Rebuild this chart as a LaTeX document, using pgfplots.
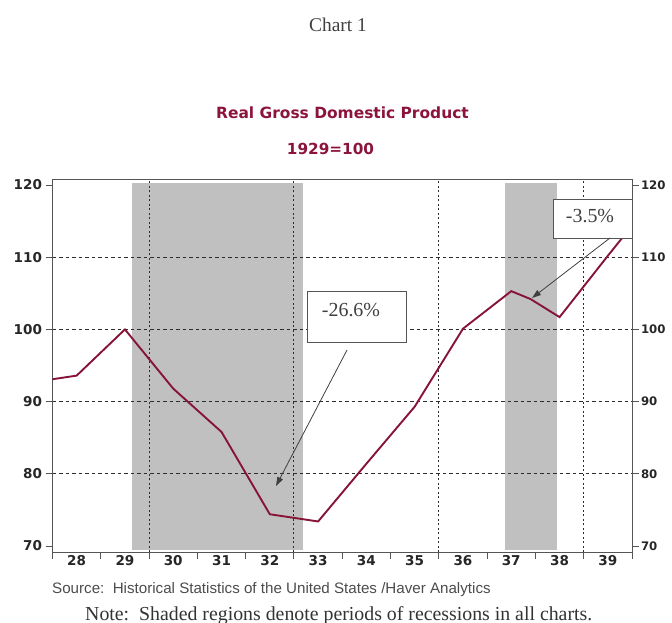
\documentclass[border=0pt]{standalone}
\usepackage{pgfplots}
\pgfplotsset{compat=1.18}
\usepackage{fontspec}
\setmainfont{DejaVu Sans}
\newfontfamily\arialf{Liberation Sans}
\newfontfamily\timesf{Liberation Serif}
\usetikzlibrary{arrows.meta}
\definecolor{gdpred}{RGB}{135,20,55}
\definecolor{titlered}{RGB}{140,20,60}
\definecolor{shade}{RGB}{192,192,192}
\definecolor{framegray}{RGB}{85,85,85}
\definecolor{gridgray}{RGB}{45,45,45}

\pgfplotsset{
  gdpframe/.style={
    at={(52.5bp,-552bp)}, anchor=south west,
    scale only axis, width=579.5bp, height=373bp,
    xmin=1928, xmax=1940, ymin=69.17, ymax=120.83,
    axis line style={framegray, line width=0.9bp},
    tick style={framegray, line width=0.9bp},
    tick align=outside, major tick length=7bp, minor tick length=0pt,
    tick label style={font=\fontsize{13.6}{14}\selectfont\bfseries, text=black!85},
    /pgf/number format/assume math mode=true,
    ytick={70,80,...,120},
  }
}

\begin{document}
\begin{tikzpicture}[x=1bp,y=1bp]

\begin{axis}[gdpframe, set layers,
  xtick={1928,...,1940}, xticklabels={},
  xtick pos=bottom,
  extra x ticks={1928.5,1929.5,...,1939.5},
  extra x tick labels={28,29,30,31,32,33,34,35,36,37,38,39},
  extra x tick style={major tick length=0pt},
  minor xtick={1930,1933,1936,1939}, xminorgrids,
  minor ytick={80,90,100,110}, yminorgrids,
  minor x grid style={gridgray, line width=1bp, dash pattern=on 2bp off 2.5bp},
  minor y grid style={gridgray, line width=1bp, dash pattern=on 3.5bp off 3bp},
  ytick pos=both, yticklabel pos=left,
]
% recession shading
\addplot[fill=shade, draw=none, on layer=axis background] coordinates {
  (1929.64,69.45) (1933.18,69.45) (1933.18,120.28) (1929.64,120.28)} -- cycle;
\addplot[fill=shade, draw=none, on layer=axis background] coordinates {
  (1937.36,69.45) (1938.44,69.45) (1938.44,120.28) (1937.36,120.28)} -- cycle;
% real GDP, 1929=100
\addplot[gdpred, line width=1.9bp] coordinates {
  (1928.0,93.1)
  (1928.5,93.6)
  (1929.5,100.0)
  (1930.5,91.8)
  (1931.5,85.8)
  (1932.5,74.4)
  (1933.5,73.4)
  (1934.5,81.4)
  (1935.5,89.3)
  (1936.5,100.1)
  (1937.5,105.3)
  (1937.9,104.2)
  (1938.5,101.7)
  (1939.5,110.2)
  (1939.8,112.7)
};
\end{axis}

% right-hand tick labels
\begin{axis}[gdpframe, hide x axis,
  ytick pos=right, yticklabel pos=right,
  axis line style={draw=none},
  yticklabel style={font=\fontsize{11.8}{12}\selectfont\bfseries, xshift=-1.5bp},
]
\addplot[draw=none] coordinates {(1934,95)};
\end{axis}

% titles
\node[font=\timesf\fontsize{19.5}{20}\selectfont, text=black!75, anchor=base] at (338,-31.5) {Chart 1};
\node[font=\fontsize{15.5}{16}\selectfont\bfseries, text=titlered, anchor=base] at (342.5,-118.3) {Real Gross Domestic Product};
\node[font=\fontsize{15.3}{16}\selectfont\bfseries, text=titlered, anchor=base] at (330.5,-155) {1929=100};

% annotations
\draw[framegray, line width=0.8bp, fill=white] (307,-291) rectangle (406,-342);
\node[font=\timesf\fontsize{20}{20}\selectfont, text=black!75] at (351,-310) {-26.6\%};
\draw[black!75, line width=0.8bp, -{Triangle[length=9bp,width=6bp]}] (347,-350) -- (276,-486);
\draw[framegray, line width=0.8bp, fill=white] (553,-199) rectangle (632,-238);
\node[font=\timesf\fontsize{20}{20}\selectfont, text=black!75] at (590,-216.5) {-3.5\%};
\draw[black!75, line width=0.8bp, -{Triangle[length=9bp,width=6bp]}] (610,-238) -- (532,-298);

% footnotes
\node[font=\arialf\fontsize{15.2}{16}\selectfont, text=black!70, anchor=base west, inner sep=0] at (52,-593) {Source:\ \ Historical Statistics of the United States /Haver Analytics};
\node[font=\timesf\fontsize{19.9}{20}\selectfont, text=black!80, anchor=base west, inner sep=0] at (85,-620) {Note:\ \ Shaded regions denote periods of recessions in all charts.};

\pgfresetboundingbox
\useasboundingbox (0,0) rectangle (672,-623);
\end{tikzpicture}
\end{document}
